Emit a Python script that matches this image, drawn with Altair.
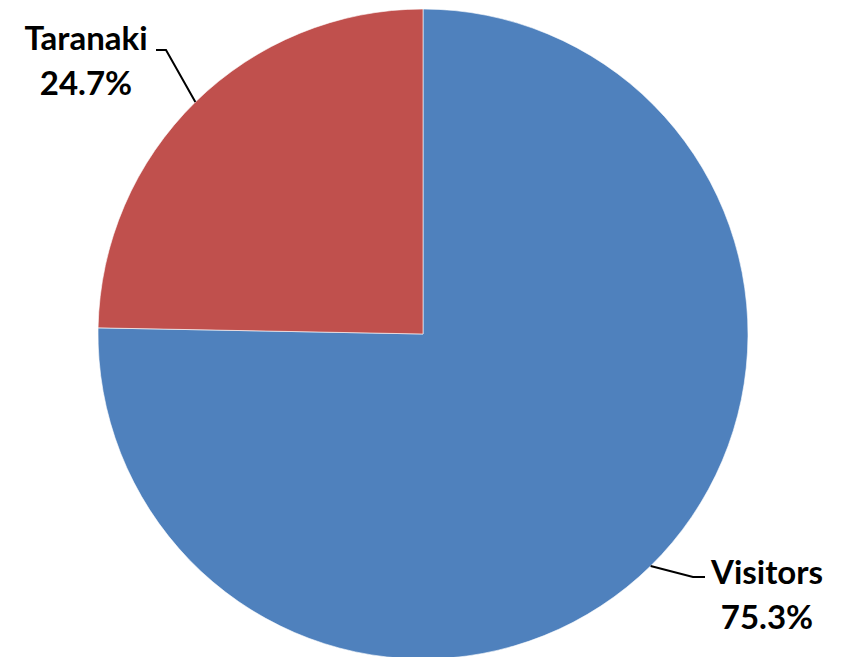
import math
import altair as alt
import pandas as pd

# ---- data ----
categories = ["Visitors", "Taranaki"]
shares = [75.3, 24.7]
colors = ["#4F81BD", "#C0504D"]
pct_labels = ["75.3%", "24.7%"]

# ---- layout (view pixels) ----
W, H = 825, 649
CX, CY = 415, 326      # pie centre
R = 325                # pie radius

# label anchors (offset from pie centre) and leader elbows / ends
label_dx = [344, -337]
label_dy = [250, -284]
elbow_dx = [270, -257]
elbow_dy = [243, -284]
end_dx = [282, -267]

df = pd.DataFrame({"category": categories, "share": shares, "idx": range(len(categories))})

pie = alt.Chart(df).mark_arc(outerRadius=R, stroke="white", strokeWidth=0.6).encode(
    theta=alt.Theta("share:Q", stack=True),
    color=alt.Color("category:N", scale=alt.Scale(domain=categories, range=colors), legend=None),
    order=alt.Order("idx:Q"),
    x=alt.value(CX),
    y=alt.value(CY),
)

# leader lines: start on the rim at the slice's mid angle
total = sum(shares)
rows = []
labels = []
cum = 0.0
for i, (c, s) in enumerate(zip(categories, shares)):
    mid = (cum + s / 2) / total * 2 * math.pi
    cum += s
    sx = CX + R * math.sin(mid)
    sy = CY - R * math.cos(mid)
    ex, ey = CX + elbow_dx[i], CY + elbow_dy[i]
    rows += [
        {"cat": c, "o": 0, "px": sx, "py": sy},
        {"cat": c, "o": 1, "px": ex, "py": ey},
        {"cat": c, "o": 2, "px": CX + end_dx[i], "py": ey},
    ]
    labels.append({"cat": c, "text": f"{c}\n{pct_labels[i]}",
                   "px": CX + label_dx[i], "py": CY + label_dy[i]})

lines = alt.Chart(pd.DataFrame(rows)).mark_line(color="black", strokeWidth=2).encode(
    x=alt.X("px:Q", scale=None),
    y=alt.Y("py:Q", scale=None),
    detail="cat:N",
    order="o:Q",
)

text = alt.Chart(pd.DataFrame(labels)).mark_text(
    font="Lato", fontWeight="bold", fontSize=33, lineBreak="\n", lineHeight=45,
    align="center", baseline="alphabetic", color="black",
).encode(
    x=alt.X("px:Q", scale=None),
    y=alt.Y("py:Q", scale=None),
    text="text:N",
)

chart = alt.layer(pie, lines, text).properties(
    width=W, height=H, autosize=alt.AutoSizeParams(type="none"), padding=0,
).configure_view(stroke=None)

chart.save("out.html", embed_options={"renderer": "svg", "actions": False})
